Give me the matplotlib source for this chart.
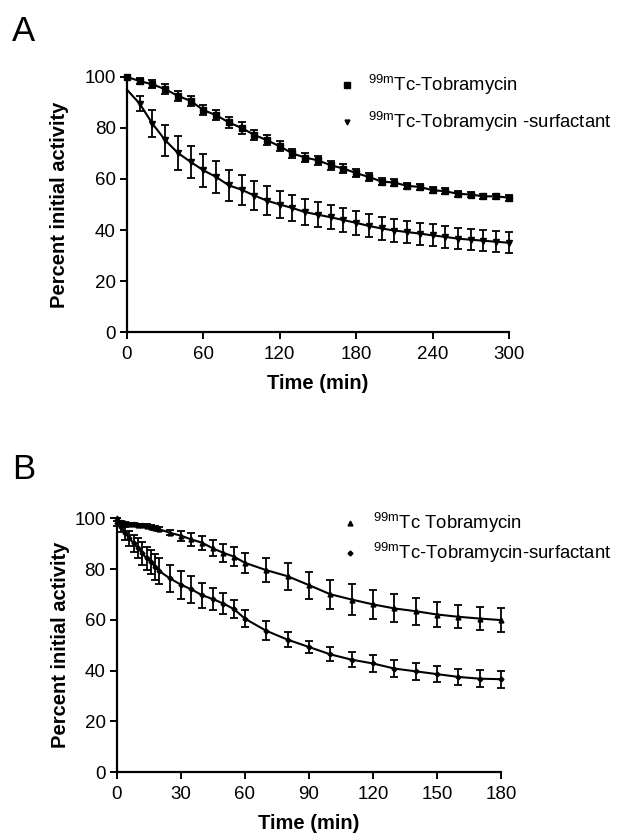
import matplotlib
matplotlib.use('Agg')
import matplotlib.pyplot as plt
import numpy as np

plt.rcParams['font.family'] = ['Liberation Sans', 'DejaVu Sans']
plt.rcParams['mathtext.fontset'] = 'custom'
plt.rcParams['mathtext.rm'] = 'Liberation Sans'

####### Panel A data
tA_tob = [0, 10, 20, 30, 40, 50, 60, 70, 80, 90, 100, 110, 120, 130, 140, 150,
          160, 170, 180, 190, 200, 210, 220, 230, 240, 250, 260, 270, 280, 290, 300]
yA_tob = [100, 98.4, 97.1, 95.2, 92.6, 90.6, 87.0, 85.0, 82.2, 80.0, 77.3, 75.2,
          72.8, 70.0, 68.4, 67.3, 65.4, 64.1, 62.3, 60.8, 59.0, 58.6, 57.3, 56.9,
          55.6, 55.2, 54.2, 53.9, 53.2, 53.2, 52.7]
eA_tob = [0, 1.2, 1.6, 2.0, 2.0, 2.0, 2.0, 2.0, 2.3, 2.3, 2.0, 2.0, 2.0, 1.8, 1.8,
          1.8, 1.8, 1.8, 1.6, 1.5, 1.4, 1.4, 1.3, 1.2, 1.2, 1.2, 1.1, 1.1, 1.1, 1.1, 1.2]

tA_surf = [10, 20, 30, 40, 50, 60, 70, 80, 90, 100, 110, 120, 130, 140, 150,
           160, 170, 180, 190, 200, 210, 220, 230, 240, 250, 260, 270, 280, 290, 300]
yA_surf = [89.5, 81.7, 75.2, 70.2, 66.7, 63.4, 60.8, 57.5, 55.8, 53.5, 51.5,
           50.0, 48.6, 47.0, 46.0, 45.0, 43.9, 42.8, 41.6, 40.6, 39.8, 39.2,
           38.6, 37.9, 37.3, 36.6, 36.2, 35.8, 35.4, 35.0]
eA_surf = [2.9, 5.2, 6.0, 6.5, 6.4, 6.4, 6.3, 6.1, 5.9, 5.8, 5.6, 5.4, 5.2, 5.0,
           4.9, 4.8, 4.7, 4.6, 4.5, 4.4, 4.4, 4.3, 4.3, 4.3, 4.3, 4.2, 4.2, 4.2, 4.2, 4.2]
fitA_surf0 = 95.0

####### Panel B data
tB = [0, 2, 4, 6, 8, 10, 12, 14, 16, 18, 20, 25, 30, 35, 40, 45, 50, 55, 60,
      70, 80, 90, 100, 110, 120, 130, 140, 150, 160, 170, 180]
yB_tob = [100, 98.4, 98.0, 97.8, 97.6, 97.4, 97.4, 97.1, 96.7, 96.3, 95.7, 94.3,
          93.2, 91.7, 90.4, 88.2, 86.4, 84.9, 82.5, 79.6, 77.2, 73.7, 70.1, 68.0,
          66.1, 64.5, 63.4, 62.1, 61.2, 60.5, 59.9]
eB_tob = [0, 0.5, 0.5, 0.5, 0.5, 0.5, 0.5, 0.5, 0.6, 0.7, 0.8, 1.0, 2.0, 2.4,
          2.8, 3.2, 3.6, 3.8, 4.0, 4.6, 5.4, 5.3, 5.7, 6.0, 5.7, 5.5, 5.3, 5.0,
          4.6, 4.6, 4.7]
yB_surf = [98.0, 96.7, 94.1, 92.1, 90.1, 88.2, 86.2, 84.2, 82.9, 80.9, 79.2,
           76.3, 73.9, 72.0, 69.7, 68.2, 66.4, 64.2, 60.5, 55.7, 52.2, 49.3,
           46.4, 44.3, 42.8, 40.8, 39.7, 38.6, 37.5, 36.8, 36.6]
eB_surf = [1.0, 2.0, 2.5, 3.0, 3.5, 4.0, 4.5, 4.5, 4.8, 5.0, 5.0, 5.3, 5.5, 5.3,
           5.0, 4.5, 4.0, 3.6, 3.5, 3.8, 3.0, 2.5, 2.7, 3.0, 3.3, 3.3, 3.3, 3.3,
           3.3, 3.3, 3.3]

labA = [r'$^{\mathrm{99m}}$Tc-Tobramycin', r'$^{\mathrm{99m}}$Tc-Tobramycin -surfactant']
labB = [r'$^{\mathrm{99m}}$Tc Tobramycin', r'$^{\mathrm{99m}}$Tc-Tobramycin-surfactant']


def style_axes(ax, xmax, xticks, ylpad):
    ax.spines['top'].set_visible(False)
    ax.spines['right'].set_visible(False)
    ax.spines['left'].set_linewidth(1.6)
    ax.spines['bottom'].set_linewidth(1.6)
    ax.set_xlim(0, xmax)
    ax.set_ylim(0, 100)
    ax.set_xticks(xticks)
    ax.set_yticks([0, 20, 40, 60, 80, 100])
    ax.tick_params(direction='out', length=5, width=1.4, labelsize=13.5)
    ax.tick_params(axis='x', pad=5)
    ax.tick_params(axis='y', pad=3)
    ax.set_xlabel('Time (min)', fontsize=14.5, fontweight='bold', labelpad=8)
    ax.set_ylabel('Percent initial activity', fontsize=14.5, fontweight='bold', labelpad=ylpad)


def key(ax, marks, xm, xt, ys, labels):
    # hand-placed legend rows (axes fraction)
    for (mk, ms), y, lab in zip(marks, ys, labels):
        ax.plot([xm], [y], mk, color='black', ms=ms, transform=ax.transAxes, clip_on=False)
        ax.text(xt, y, lab, transform=ax.transAxes, fontsize=13.3, va='center', ha='left')


fig = plt.figure(figsize=(6.18, 8.33), dpi=100)

### Panel A
axA = fig.add_axes([0.2055, 0.6014, 0.618, 0.3062])
axA.errorbar(tA_tob, yA_tob, yerr=eA_tob, fmt='s', color='black', ms=4,
             capsize=3, elinewidth=1.3, capthick=1.3, clip_on=False, zorder=3)
axA.plot(tA_tob, yA_tob, '-', color='black', lw=1.5, clip_on=False)
axA.errorbar(tA_surf, yA_surf, yerr=eA_surf, fmt='v', color='black', ms=4,
             capsize=3, elinewidth=1.3, capthick=1.3, clip_on=False, zorder=3)
axA.plot([0] + tA_surf, [fitA_surf0] + yA_surf, '-', color='black', lw=1.5, clip_on=False)
style_axes(axA, 300, [0, 60, 120, 180, 240, 300], 11)
key(axA, [('s', 4), ('v', 3.5)], 0.576, 0.631, [0.969, 0.824], labA)
fig.text(0.019, 0.982, 'A', fontsize=25, va='top')

### Panel B
axB = fig.add_axes([0.1888, 0.0732, 0.622, 0.3045])
axB.errorbar(tB, yB_tob, yerr=eB_tob, fmt='^', color='black', ms=3.5,
             capsize=3, elinewidth=1.3, capthick=1.3, clip_on=False, zorder=3)
axB.plot(tB, yB_tob, '-', color='black', lw=1.5, clip_on=False)
axB.errorbar(tB, yB_surf, yerr=eB_surf, fmt='D', color='black', ms=2.5,
             capsize=3, elinewidth=1.3, capthick=1.3, clip_on=False, zorder=3)
axB.plot(tB, yB_surf, '-', color='black', lw=1.5, clip_on=False)
style_axes(axB, 180, [0, 30, 60, 90, 120, 150, 180], 3)
key(axB, [('^', 3.5), ('D', 2.5)], 0.607, 0.667, [0.980, 0.862], labB)
fig.text(0.019, 0.456, 'B', fontsize=25, va='top')

plt.savefig('out.png', dpi=100)
